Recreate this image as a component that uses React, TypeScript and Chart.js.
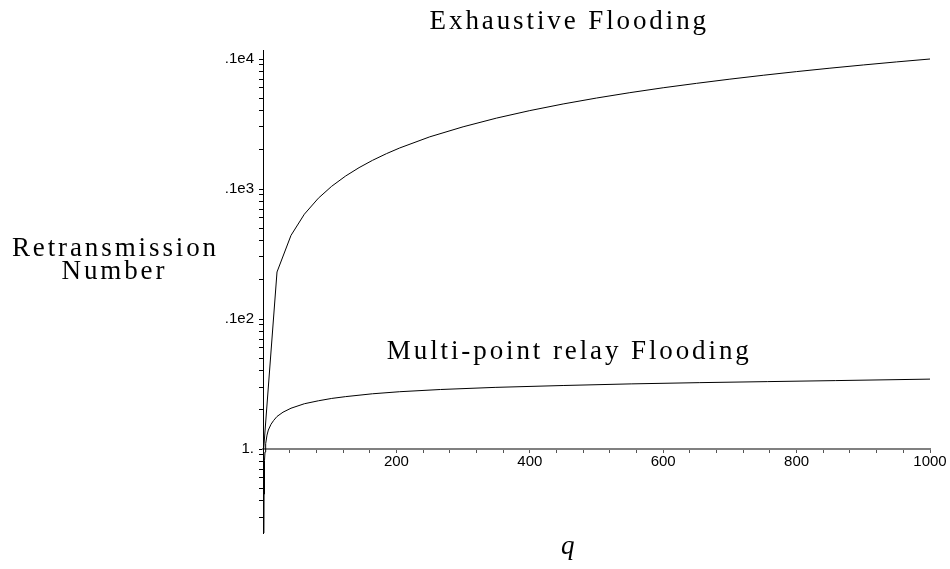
import React, { useEffect, useRef } from "react";
import { Chart, registerables } from "chart.js";

Chart.register(...registerables);

// ---- data ----
const exhaustiveQ = [1, 21, 42, 62, 83, 103, 124, 144, 164, 185, 205, 250, 300, 350, 400, 450, 500, 550, 600, 650, 700, 750, 800, 850, 900, 950, 1000];
const exhaustiveN = [1, 23, 44, 64, 85, 105, 126, 146, 166, 187, 207, 252, 301, 351, 401, 451, 501, 551, 601, 650, 700, 750, 800, 850, 900, 950, 1000];

const relayQ = [1.3, 1.6, 2, 2.5, 3, 4, 6, 8, 12, 16, 21, 30, 42, 62, 83, 103, 124, 164, 205, 266, 348, 450, 552, 654, 756, 858, 1000];
const relayN = [0.2, 0.45, 0.65, 0.82, 0.95, 1.1, 1.28, 1.4, 1.55, 1.66, 1.78, 1.92, 2.06, 2.23, 2.35, 2.45, 2.53, 2.66, 2.76, 2.87, 2.98, 3.08, 3.17, 3.24, 3.3, 3.36, 3.45];

const xMin = 0;
const xMax = 1000;
const xTickStep = 40;
const xLabelEvery = 200;

const yMin = 0.226;
const yMax = 1173;
const yTickValues = [
  0.3, 0.4, 0.5, 0.6, 0.7, 0.8, 0.9,
  1, 2, 3, 4, 5, 6, 7, 8, 9,
  10, 20, 30, 40, 50, 60, 70, 80, 90,
  100, 200, 300, 400, 500, 600, 700, 800, 900,
  1000,
];
const yTickLabelValues = [1, 10, 100, 1000];
const yTickLabelTexts = ["1.", ".1e2", ".1e3", ".1e4"];

const chartTitle = "Exhaustive Flooding";
const curveLabel = "Multi-point relay Flooding";
const curveLabelQ = 457;
const curveLabelN = 4.9;
const yAxisTitleLines = ["Retransmission", "Number"];
const xAxisTitle = "q";

const SERIF = '"Liberation Serif", "DejaVu Serif", serif';
const SANS = '"Liberation Sans", Arial, sans-serif';

function drawSpaced(ctx: CanvasRenderingContext2D, text: string, cx: number, baseline: number, spacing: number) {
  const c: any = ctx;
  c.letterSpacing = spacing + "px";
  const w = ctx.measureText(text).width;
  ctx.textAlign = "left";
  ctx.fillText(text, cx - (w - spacing) / 2, baseline);
  c.letterSpacing = "0px";
}

const textPlugin = {
  id: "maple-texts",
  afterDraw(chart: any) {
    const ctx: CanvasRenderingContext2D = chart.ctx;
    const xs = chart.scales.x;
    const ys = chart.scales.y;
    const area = chart.chartArea;
    ctx.save();
    ctx.fillStyle = "#000";
    ctx.textBaseline = "alphabetic";
    ctx.font = "27px " + SERIF;
    const cx = xs.getPixelForValue(curveLabelQ);
    drawSpaced(ctx, chartTitle, cx, area.top - 21, 2.9);
    drawSpaced(ctx, curveLabel, cx, ys.getPixelForValue(curveLabelN), 2.9);
    drawSpaced(ctx, yAxisTitleLines[0], area.left - 149, 256, 2.9);
    drawSpaced(ctx, yAxisTitleLines[1], area.left - 150, 279, 2.9);
    ctx.font = "italic 27px " + SERIF;
    drawSpaced(ctx, xAxisTitle, cx, area.bottom + 21, 0);
    ctx.restore();
  },
};

export default function App() {
  const ref = useRef<HTMLCanvasElement | null>(null);

  useEffect(() => {
    if (!ref.current) return;
    const chart = new Chart(ref.current, {
      type: "line",
      data: {
        datasets: [
          {
            label: chartTitle,
            data: exhaustiveQ.map((q, i) => ({ x: q, y: exhaustiveN[i] })),
            borderColor: "#000",
            borderWidth: 1,
            pointRadius: 0,
            tension: 0,
            fill: false,
          },
          {
            label: curveLabel,
            data: relayQ.map((q, i) => ({ x: q, y: relayN[i] })),
            borderColor: "#000",
            borderWidth: 1,
            pointRadius: 0,
            tension: 0,
            fill: false,
          },
        ],
      },
      options: {
        animation: false,
        responsive: false,
        layout: { padding: { left: 0, right: 20, top: 50, bottom: 36 } },
        plugins: {
          legend: { display: false },
          title: { display: false },
          tooltip: { enabled: false },
        },
        scales: {
          x: {
            type: "linear",
            min: xMin,
            max: xMax,
            position: { y: 1 } as any,
            grid: { drawOnChartArea: false, drawTicks: true, tickLength: 3, color: "#555", lineWidth: 1 },
            border: { display: true, color: "#808080", width: 2 },
            ticks: {
              stepSize: xTickStep,
              autoSkip: false,
              maxRotation: 0,
              padding: 1,
              color: "#000",
              font: { family: SANS, size: 15 },
              callback: (v: any) => {
                const n = Number(v);
                return n !== 0 && n % xLabelEvery === 0 ? String(n) : "";
              },
            },
          },
          y: {
            type: "logarithmic",
            min: yMin,
            max: yMax,
            position: "left",
            afterFit: (scale: any) => {
              scale.width = 263;
            },
            afterBuildTicks: (scale: any) => {
              scale.ticks = yTickValues.map((v) => ({ value: v }));
            },
            grid: { drawOnChartArea: false, drawTicks: true, tickLength: 4, color: "#000", lineWidth: 1 },
            border: { display: true, color: "#000", width: 1 },
            ticks: {
              autoSkip: false,
              padding: 5,
              color: "#000",
              font: { family: SANS, size: 15 },
              callback: (v: any) => {
                const n = Number(v);
                const idx = yTickLabelValues.findIndex((t) => Math.abs(t - n) < 1e-9);
                return idx >= 0 ? yTickLabelTexts[idx] : "";
              },
            },
          },
        },
      },
      plugins: [textPlugin],
    } as any);
    return () => chart.destroy();
  }, []);

  return (
    <div style={{ position: "fixed", left: 0, top: 0, width: 950, height: 569, background: "#fff" }}>
      <canvas ref={ref} width={950} height={569} style={{ display: "block" }} />
    </div>
  );
}
